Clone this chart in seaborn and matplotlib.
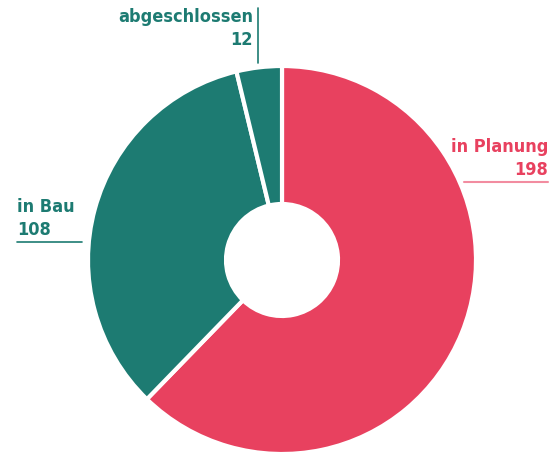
import seaborn as sns
import matplotlib.pyplot as plt

labels = ['in Planung', 'in Bau', 'abgeschlossen']
values = [198, 108, 12]
colors = ['#E8415F', '#1D7B72', '#1D7B72']

sns.set_theme(style="white")
plt.rcParams['font.family'] = ['Liberation Sans Narrow', 'DejaVu Sans']

fig = plt.figure(figsize=(5.58, 4.54), dpi=100)
ax = fig.add_axes([0, 0, 1, 1])

# pixel -> data coords (center of donut at 282,260, radius 194px)
cx, cy, r = 282, 260, 194
def P(px, py):
    return (px - cx) / r, (cy - py) / r

ax.pie(values, colors=colors, startangle=90, counterclock=False,
       radius=1, wedgeprops=dict(width=1 - 56 / 194, edgecolor='white', linewidth=3))

ax.set_xlim(-cx / r, (558 - cx) / r)
ax.set_ylim(-(454 - cy) / r, cy / r)
ax.set_aspect('equal')
ax.axis('off')

fs = 13
kw = dict(fontsize=fs, fontweight='bold', fontstretch='condensed', va='baseline')
# in Planung
ax.text(*P(548, 152), labels[0], color=colors[0], ha='right', **kw)
ax.text(*P(548, 175), str(values[0]), color=colors[0], ha='right', **kw)
x0, y0 = P(464, 182); x1, y1 = P(548, 182)
ax.plot([x0, x1], [y0, y1], color='#F28CA0', lw=1.5)

# in Bau
ax.text(*P(17, 212), labels[1], color=colors[1], ha='left', **kw)
ax.text(*P(17, 235), str(values[1]), color=colors[1], ha='left', **kw)
x0, y0 = P(17, 242); x1, y1 = P(82, 242)
ax.plot([x0, x1], [y0, y1], color=colors[1], lw=1.2)

# abgeschlossen
ax.text(*P(253, 22), labels[2], color=colors[2], ha='right', **kw)
ax.text(*P(253, 45), str(values[2]), color=colors[2], ha='right', **kw)
x0, y0 = P(258, 8); x1, y1 = P(258, 63)
ax.plot([x0, x1], [y0, y1], color=colors[2], lw=1.2)

fig.savefig('out.png', dpi=100)
